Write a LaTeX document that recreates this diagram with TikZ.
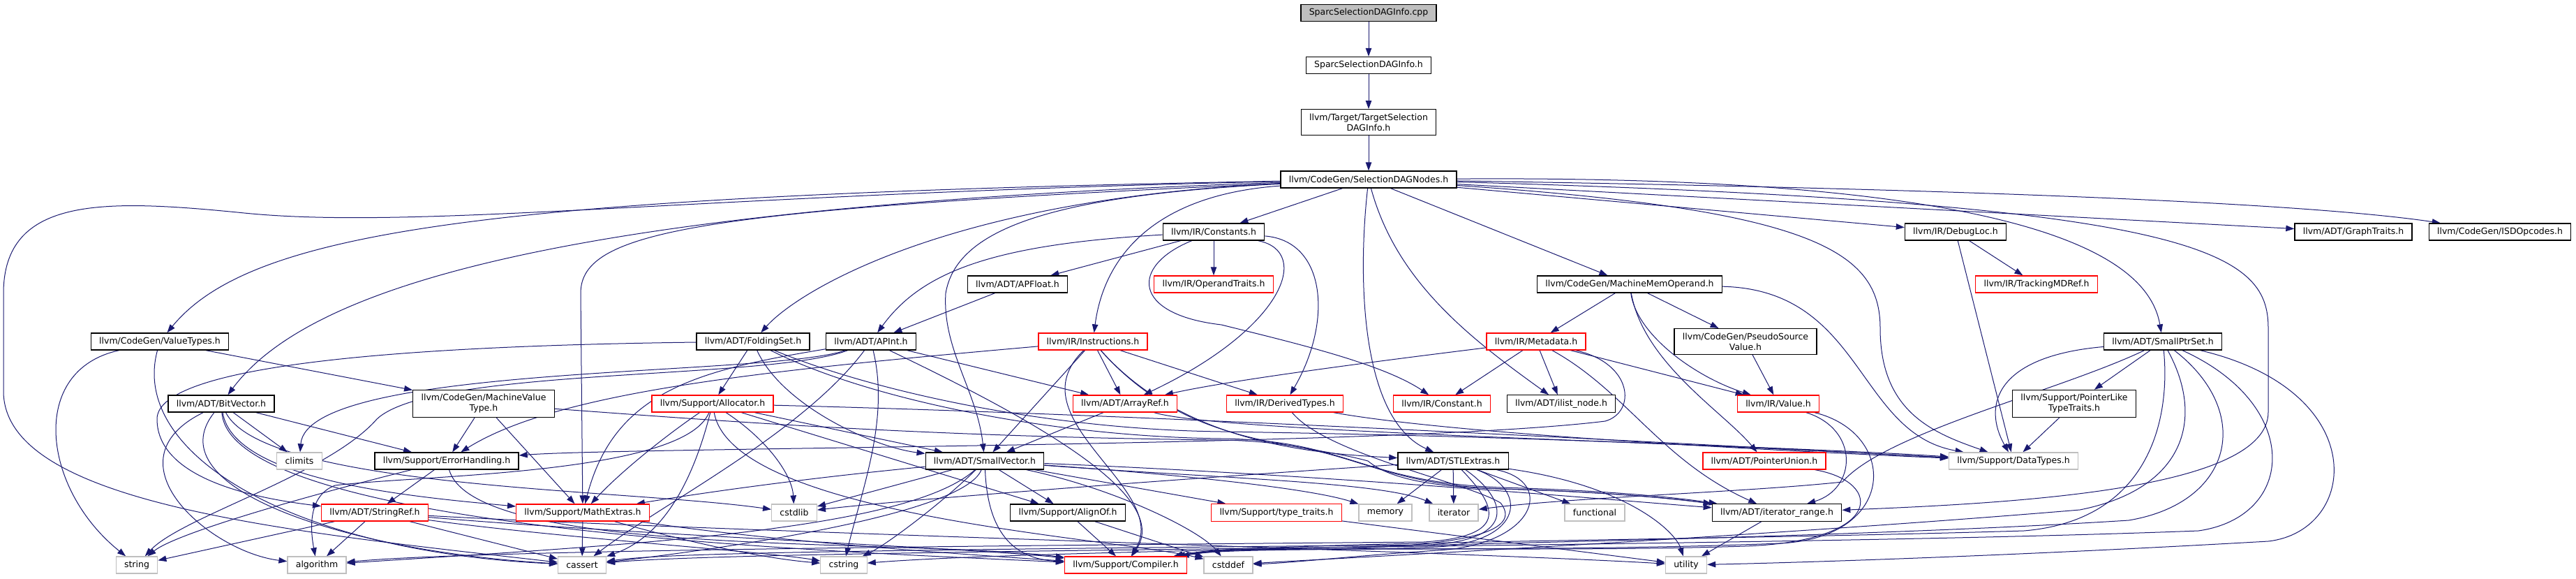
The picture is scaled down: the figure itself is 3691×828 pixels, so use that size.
\documentclass[tikz,border=0pt]{standalone}
\usepackage{fontspec}
\usetikzlibrary{arrows.meta}
\newfontfamily\dgfont{DejaVu Sans}
\definecolor{edgeblue}{HTML}{191970}
\definecolor{truncred}{HTML}{FF0000}
\definecolor{sysgray}{HTML}{BFBFBF}
\definecolor{rootgray}{HTML}{BFBFBF}
\pgfdeclarelayer{edges}
\pgfsetlayers{edges,main}
\tikzset{
  hdr/.style={rectangle,draw=black,line width=1.3pt,fill=white,align=center,font=\dgfont\fontsize{12.5}{15}\selectfont,inner xsep=11.8pt,inner ysep=6pt,minimum height=24pt},
  trunc/.style={hdr,draw=truncred},
  sys/.style={hdr,draw=sysgray},
  root/.style={hdr,fill=rootgray},
  inc/.style={-{Triangle[length=12pt,width=8.5pt]},draw=edgeblue,line width=1pt}
}
\begin{document}
\begin{tikzpicture}[x=1pt,y=-1pt]
    \useasboundingbox (0,0) rectangle (3691,828);
    \node[root] (cpp) at (1961,18.5) {SparcSelectionDAGInfo.cpp};
    \node[hdr] (sparch) at (1961,93.5) {SparcSelectionDAGInfo.h};
    \node[hdr] (tsdi) at (1961,175) {llvm/Target/TargetSelection\\DAGInfo.h};
    \node[hdr] (sdn) at (1961,257) {llvm/CodeGen/SelectionDAGNodes.h};
    \node[hdr] (constants) at (1739,332) {llvm/IR/Constants.h};
    \node[hdr] (debugloc) at (2802,332) {llvm/IR/DebugLoc.h};
    \node[hdr] (graphtraits) at (3372,332) {llvm/ADT/GraphTraits.h};
    \node[hdr] (isdopcodes) at (3582,332) {llvm/CodeGen/ISDOpcodes.h};
    \node[hdr] (apfloat) at (1458,407) {llvm/ADT/APFloat.h};
    \node[trunc] (operandtraits) at (1739,407) {llvm/IR/OperandTraits.h};
    \node[hdr] (mmo) at (2335,407) {llvm/CodeGen/MachineMemOperand.h};
    \node[trunc] (trackingmdref) at (2918,407) {llvm/IR/TrackingMDRef.h};
    \node[hdr] (valuetypes) at (229,489) {llvm/CodeGen/ValueTypes.h};
    \node[hdr] (foldingset) at (1079,489) {llvm/ADT/FoldingSet.h};
    \node[hdr] (apint) at (1248,489) {llvm/ADT/APInt.h};
    \node[trunc] (instructions) at (1566,489) {llvm/IR/Instructions.h};
    \node[trunc] (metadata) at (2201,489) {llvm/IR/Metadata.h};
    \node[hdr] (pseudosource) at (2501,489) {llvm/CodeGen/PseudoSource\\Value.h};
    \node[hdr] (smallptrset) at (3099,489) {llvm/ADT/SmallPtrSet.h};
    \node[hdr] (bitvector) at (317,578) {llvm/ADT/BitVector.h};
    \node[hdr] (mvt) at (693,578) {llvm/CodeGen/MachineValue\\Type.h};
    \node[trunc] (allocator) at (1021,578) {llvm/Support/Allocator.h};
    \node[trunc] (arrayref) at (1612,578) {llvm/ADT/ArrayRef.h};
    \node[trunc] (derivedtypes) at (1841,578) {llvm/IR/DerivedTypes.h};
    \node[trunc] (constant) at (2066,578) {llvm/IR/Constant.h};
    \node[hdr] (ilistnode) at (2237,578) {llvm/ADT/ilist\_node.h};
    \node[trunc] (value) at (2548,578) {llvm/IR/Value.h};
    \node[hdr] (plt) at (2972,578) {llvm/Support/PointerLike\\TypeTraits.h};
    \node[sys] (climits) at (429,660) {climits};
    \node[hdr] (errorhandling) at (640,660) {llvm/Support/ErrorHandling.h};
    \node[hdr] (smallvector) at (1411,660) {llvm/ADT/SmallVector.h};
    \node[hdr] (stlextras) at (2082,660) {llvm/ADT/STLExtras.h};
    \node[trunc] (pointerunion) at (2528,660) {llvm/ADT/PointerUnion.h};
    \node[sys] (datatypes) at (2885,660) {llvm/Support/DataTypes.h};
    \node[trunc] (stringref) at (537,734) {llvm/ADT/StringRef.h};
    \node[trunc] (mathextras) at (835,734) {llvm/Support/MathExtras.h};
    \node[sys] (cstdlib) at (1138,734) {cstdlib};
    \node[hdr] (alignof) at (1530,734) {llvm/Support/AlignOf.h};
    \node[trunc] (typetraits) at (1829,734) {llvm/Support/type\_traits.h};
    \node[sys] (memory) at (1985,734) {memory};
    \node[sys] (iterator) at (2083,734) {iterator};
    \node[sys] (functional) at (2285,734) {functional};
    \node[hdr] (iteratorrange) at (2546,734) {llvm/ADT/iterator\_range.h};
    \node[sys] (string) at (196,809) {string};
    \node[sys] (algorithm) at (454,809) {algorithm};
    \node[sys] (cassert) at (834,809) {cassert};
    \node[sys] (cstring) at (1209,809) {cstring};
    \node[trunc] (compiler) at (1613,809) {llvm/Support/Compiler.h};
    \node[sys] (cstddef) at (1760,809) {cstddef};
    \node[sys] (utility) at (2416,809) {utility};
    \begin{pgfonlayer}{edges}
    \draw[inc] (cpp) -- (sparch);
    \draw[inc] (sparch) -- (tsdi);
    \draw[inc] (tsdi) -- (sdn);
    \draw[inc] (sdn) -- (constants);
    \draw[inc] (sdn) -- (mmo);
    \draw[inc] (sdn) -- (debugloc);
    \draw[inc] (sdn) -- (graphtraits);
    \draw[inc] (sdn) .. controls (2800,270) and (3300,290) .. (isdopcodes);
    \draw[inc] (sdn) .. controls (2000,400) and (2100,480) .. (ilistnode);
    \draw[inc] (sdn) .. controls (1945,400) and (1950,600) .. (stlextras);
    \draw[inc] (sdn) .. controls (1640,280) and (1580,380) .. (instructions);
    \draw[inc] (sdn) .. controls (1500,280) and (1370,330) .. (1355,420) .. controls (1350,500) and (1400,560) .. (smallvector);
    \draw[inc] (sdn) .. controls (1350,285) and (1140,420) .. (foldingset);
    \draw[inc] (sdn) .. controls (1000,300) and (832,330) .. (832,420) -- (mathextras);
    \draw[inc] (sdn) .. controls (850,295) and (450,400) .. (bitvector);
    \draw[inc] (sdn) .. controls (700,280) and (360,330) .. (valuetypes);
    \draw[inc] (sdn) .. controls (1000,278) and (600,330) .. (350,305) .. controls (150,285) and (5,280) .. (5,420) -- (5,560) .. controls (5,720) and (400,760) .. (cassert);
    \draw[inc] (sdn) .. controls (2950,250) and (3080,380) .. (smallptrset);
    \draw[inc] (sdn) .. controls (2600,300) and (2694,360) .. (2694,470) .. controls (2694,590) and (2770,620) .. (datatypes);
    \draw[inc] (sdn) .. controls (3150,290) and (3250,360) .. (3250,470) -- (3250,590) .. controls (3250,700) and (2900,720) .. (iteratorrange);
    \draw[inc] (constants) -- (apfloat);
    \draw[inc] (constants) -- (operandtraits);
    \draw[inc] (constants) .. controls (1420,350) and (1320,390) .. (apint);
    \draw[inc] (constants) .. controls (1880,360) and (1840,470) .. (arrayref);
    \draw[inc] (constants) .. controls (1900,345) and (1910,460) .. (derivedtypes);
    \draw[inc] (constants) .. controls (1620,380) and (1620,450) .. (1750,465) .. controls (1850,490) and (1980,520) .. (constant);
    \draw[inc] (apfloat) -- (apint);
    \draw[inc] (apint) -- (arrayref);
    \draw[inc] (apint) .. controls (1275,600) and (1235,700) .. (cstring);
    \draw[inc] (apint) .. controls (1480,600) and (1680,710) .. (compiler);
    \draw[inc] (apint) .. controls (1100,540) and (440,520) .. (climits);
    \draw[inc] (apint) .. controls (1000,530) and (880,560) .. (mathextras);
    \draw[inc] (apint) .. controls (1150,620) and (950,720) .. (cassert);
    \draw[inc] (apint) .. controls (1100,545) and (620,525) .. (540,600) .. controls (470,680) and (260,740) .. (string);
    \draw[inc] (foldingset) -- (allocator);
    \draw[inc] (foldingset) .. controls (1120,580) and (1250,640) .. (smallvector);
    \draw[inc] (foldingset) .. controls (1250,560) and (1500,615) .. (1750,618) .. controls (2200,625) and (2500,640) .. (datatypes);
    \draw[inc] (foldingset) .. controls (1240,570) and (1500,625) .. (1750,628) .. controls (1930,630) and (1950,690) .. (2150,698) .. controls (2300,702) and (2400,712) .. (iteratorrange);
    \draw[inc] (foldingset) .. controls (600,495) and (225,520) .. (225,600) .. controls (225,690) and (380,715) .. (stringref);
    \draw[inc] (allocator) -- (smallvector);
    \draw[inc] (allocator) -- (alignof);
    \draw[inc] (allocator) .. controls (1100,630) and (1135,680) .. (cstdlib);
    \draw[inc] (allocator) .. controls (945,630) and (885,680) .. (mathextras);
    \draw[inc] (allocator) .. controls (990,700) and (945,770) .. (cassert);
    \draw[inc] (allocator) .. controls (980,680) and (600,680) .. (480,695) .. controls (440,710) and (445,760) .. (algorithm);
    \draw[inc] (allocator) .. controls (1050,740) and (1600,770) .. (cstddef);
    \draw[inc] (allocator) .. controls (1700,595) and (2500,640) .. (datatypes);
    \draw[inc] (smallvector) -- (alignof);
    \draw[inc] (smallvector) -- (typetraits);
    \draw[inc] (smallvector) -- (cstdlib);
    \draw[inc] (smallvector) .. controls (1415,760) and (1450,800) .. (compiler);
    \draw[inc] (smallvector) .. controls (1100,690) and (950,715) .. (mathextras);
    \draw[inc] (smallvector) .. controls (1600,700) and (1720,760) .. (cstddef);
    \draw[inc] (smallvector) .. controls (1350,720) and (1270,780) .. (cstring);
    \draw[inc] (smallvector) .. controls (1300,760) and (900,780) .. (algorithm);
    \draw[inc] (smallvector) .. controls (1380,740) and (1000,790) .. (cassert);
    \draw[inc] (smallvector) .. controls (1700,680) and (1880,700) .. (memory);
    \draw[inc] (smallvector) .. controls (1750,685) and (1980,690) .. (iterator);
    \draw[inc] (smallvector) .. controls (1900,680) and (2300,715) .. (iteratorrange);
    \draw[inc] (valuetypes) -- (mvt);
    \draw[inc] (valuetypes) .. controls (40,530) and (60,700) .. (string);
    \draw[inc] (valuetypes) .. controls (185,650) and (420,790) .. (cassert);
    \draw[inc] (mvt) -- (errorhandling);
    \draw[inc] (mvt) -- (mathextras);
    \draw[inc] (mvt) .. controls (1000,600) and (1300,625) .. (1750,630) .. controls (1940,633) and (1955,692) .. (2150,700) .. controls (2300,704) and (2400,714) .. (iteratorrange);
    \draw[inc] (bitvector) -- (climits);
    \draw[inc] (bitvector) -- (errorhandling);
    \draw[inc] (bitvector) .. controls (335,690) and (600,712) .. (mathextras);
    \draw[inc] (bitvector) .. controls (150,660) and (300,790) .. (algorithm);
    \draw[inc] (bitvector) .. controls (220,700) and (500,790) .. (cassert);
    \draw[inc] (bitvector) .. controls (380,700) and (900,700) .. (cstdlib);
    \draw[inc] (bitvector) .. controls (330,760) and (1200,790) .. (compiler);
    \draw[inc] (errorhandling) -- (stringref);
    \draw[inc] (errorhandling) .. controls (420,715) and (250,765) .. (string);
    \draw[inc] (errorhandling) .. controls (680,800) and (1300,770) .. (compiler);
    \draw[inc] (stringref) -- (string);
    \draw[inc] (stringref) -- (algorithm);
    \draw[inc] (stringref) -- (cassert);
    \draw[inc] (stringref) .. controls (900,765) and (1400,785) .. (compiler);
    \draw[inc] (stringref) .. controls (800,770) and (1100,790) .. (cstring);
    \draw[inc] (stringref) .. controls (1000,760) and (2100,790) .. (utility);
    \draw[inc] (mathextras) -- (cassert);
    \draw[inc] (mathextras) .. controls (1100,775) and (1400,795) .. (compiler);
    \draw[inc] (mathextras) .. controls (1000,780) and (1100,800) .. (cstring);
    \draw[inc] (alignof) -- (compiler);
    \draw[inc] (alignof) -- (cstddef);
    \draw[inc] (instructions) -- (smallvector);
    \draw[inc] (instructions) -- (arrayref);
    \draw[inc] (instructions) -- (derivedtypes);
    \draw[inc] (instructions) .. controls (1450,600) and (1680,700) .. (compiler);
    \draw[inc] (instructions) .. controls (1100,530) and (800,560) .. (errorhandling);
    \draw[inc] (instructions) .. controls (1700,640) and (1900,650) .. (stlextras);
    \draw[inc] (instructions) .. controls (1700,640) and (1850,630) .. (1960,660) .. controls (1990,685) and (2050,697) .. (2150,700) .. controls (2300,704) and (2400,714) .. (iteratorrange);
    \draw[inc] (metadata) -- (constant);
    \draw[inc] (metadata) -- (ilistnode);
    \draw[inc] (metadata) -- (value);
    \draw[inc] (metadata) .. controls (1950,520) and (1760,545) .. (arrayref);
    \draw[inc] (metadata) .. controls (2330,560) and (2380,660) .. (iteratorrange);
    \draw[inc] (metadata) .. controls (2340,520) and (2345,590) .. (2300,603) .. controls (2000,640) and (900,640) .. (errorhandling);
    \draw[inc] (mmo) -- (metadata);
    \draw[inc] (mmo) -- (pseudosource);
    \draw[inc] (mmo) .. controls (2345,480) and (2430,540) .. (value);
    \draw[inc] (mmo) .. controls (2355,520) and (2470,590) .. (pointerunion);
    \draw[inc] (mmo) .. controls (2670,415) and (2660,620) .. (datatypes);
    \draw[inc] (pseudosource) -- (value);
    \draw[inc] (value) .. controls (2665,615) and (2660,700) .. (iteratorrange);
    \draw[inc] (value) .. controls (2720,620) and (2720,770) .. (2550,778) .. controls (2200,792) and (1780,780) .. (compiler);
    \draw[inc] (pointerunion) .. controls (2700,690) and (2700,775) .. (2500,782) .. controls (2200,792) and (1780,778) .. (compiler);
    \draw[inc] (stlextras) -- (memory);
    \draw[inc] (stlextras) -- (iterator);
    \draw[inc] (stlextras) -- (functional);
    \draw[inc] (stlextras) .. controls (2330,695) and (2400,760) .. (utility);
    \draw[inc] (stlextras) .. controls (1700,685) and (1300,715) .. (cstdlib);
    \draw[inc] (stlextras) .. controls (2190,700) and (2185,775) .. (2060,783) .. controls (1900,790) and (1780,782) .. (compiler);
    \draw[inc] (stlextras) .. controls (2230,690) and (2200,780) .. (2060,788) .. controls (1950,795) and (1850,806) .. (cstddef);
    \draw[inc] (stlextras) .. controls (2160,715) and (2175,772) .. (2050,780) .. controls (1200,788) and (950,792) .. (cassert);
    \draw[inc] (stlextras) .. controls (2140,720) and (2170,768) .. (2040,776) .. controls (1200,783) and (650,790) .. (algorithm);
    \draw[inc] (smallptrset) -- (plt);
    \draw[inc] (smallptrset) .. controls (2860,510) and (2840,580) .. (datatypes);
    \draw[inc] (smallptrset) .. controls (2950,560) and (2700,620) .. (2640,690) .. controls (2500,705) and (2250,712) .. (iterator);
    \draw[inc] (smallptrset) .. controls (3400,560) and (3380,760) .. (3250,775) .. controls (2900,795) and (2600,805) .. (utility);
    \draw[inc] (smallptrset) .. controls (3300,580) and (3290,740) .. (3150,760) .. controls (2500,785) and (1100,785) .. (cassert);
    \draw[inc] (smallptrset) .. controls (3230,590) and (3200,720) .. (3050,745) .. controls (2500,780) and (1500,785) .. (cstring);
    \draw[inc] (smallptrset) .. controls (3160,600) and (3130,700) .. (2980,730) .. controls (2500,770) and (1900,800) .. (cstddef);
    \draw[inc] (smallptrset) .. controls (3110,600) and (3080,745) .. (2900,760) .. controls (2400,775) and (1800,775) .. (compiler);
    \draw[inc] (plt) -- (datatypes);
    \draw[inc] (debugloc) -- (trackingmdref);
    \draw[inc] (debugloc) -- (datatypes);
    \draw[inc] (derivedtypes) .. controls (2100,625) and (2650,650) .. (datatypes);
    \draw[inc] (derivedtypes) .. controls (1900,650) and (2100,690) .. (2150,720) .. controls (2190,770) and (2050,783) .. (1900,786) .. controls (1800,788) and (1760,782) .. (compiler);
    \draw[inc] (typetraits) -- (utility);
    \draw[inc] (arrayref) -- (smallvector);
    \draw[inc] (arrayref) .. controls (1750,620) and (2500,635) .. (datatypes);
    \draw[inc] (iteratorrange) -- (utility);
    \end{pgfonlayer}
\end{tikzpicture}
\end{document}
